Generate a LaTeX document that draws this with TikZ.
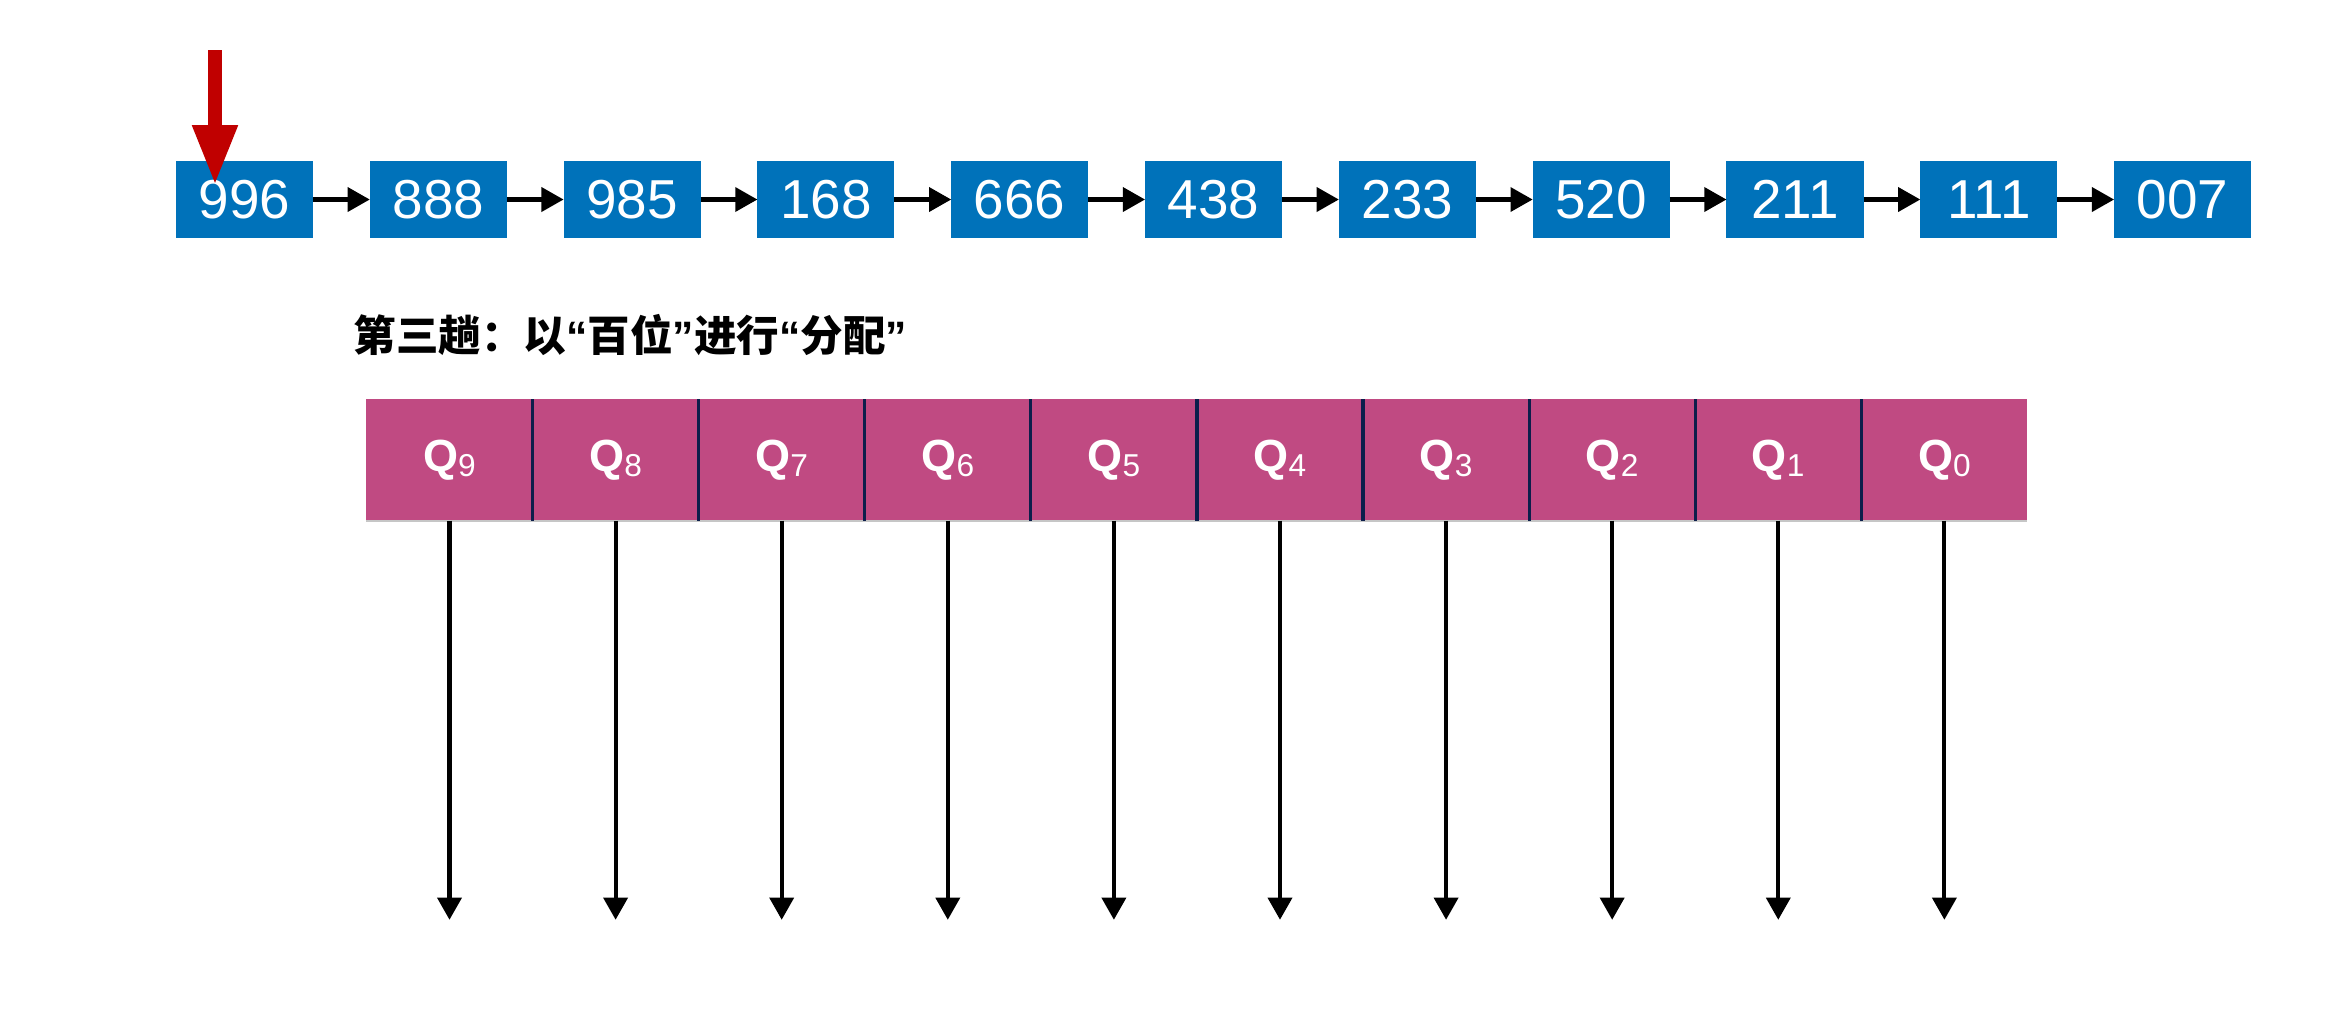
\documentclass[tikz,border=0pt]{standalone}
\usepackage{fontspec}
\setmainfont{Liberation Sans}
\newfontfamily\cjk{Noto Sans CJK SC}
\newfontfamily\latinq{Liberation Sans}
\usetikzlibrary{positioning,arrows.meta}
\definecolor{boxblue}{RGB}{0,114,186}
\definecolor{qpink}{RGB}{192,74,130}
\definecolor{qnavy}{RGB}{12,30,75}
\definecolor{ptrred}{RGB}{192,0,0}
\newcommand{\qsub}[1]{\raisebox{-1.5pt}{\mdseries\fontsize{9}{10}\selectfont #1}}
\newcommand{\oq}{{\latinq “}}
\newcommand{\cq}{{\latinq ”}}

\begin{document}
\begin{tikzpicture}[x=0.01cm,y=-0.01cm,
  numbox/.style={fill=boxblue,text=white,minimum width=1.37cm,minimum height=0.77cm,inner sep=0pt,outer sep=0pt,font=\fontsize{15.6}{18}\selectfont},
  qcell/.style={fill=qpink,text=white,minimum width=1.66cm,minimum height=1.21cm,inner sep=0pt,outer sep=0pt,font=\bfseries\fontsize{12.8}{14}\selectfont},
  link/.style={line width=1.15pt,-{Triangle[length=6.3pt,width=6.8pt]}},
  ptrarrow/.style={draw=ptrred,line width=3.7pt,-{Triangle[length=17pt,width=12pt]}},
  sepline/.style={draw=qnavy,line width=0.9pt},
  node distance=0.567cm]
\fill[white] (0,0) rectangle (2336,1026);
\useasboundingbox (0,0) rectangle (2336,1026);
% --- linked list ---
\node[numbox] (n1) at (244.5,199.5) {996};
\node[numbox,right=of n1] (n2) {888};
\node[numbox,right=of n2] (n3) {985};
\node[numbox,right=of n3] (n4) {168};
\node[numbox,right=of n4] (n5) {666};
\node[numbox,right=of n5] (n6) {438};
\node[numbox,right=of n6] (n7) {233};
\node[numbox,right=of n7] (n8) {520};
\node[numbox,right=of n8] (n9) {211};
\node[numbox,right=of n9] (n10) {111};
\node[numbox,right=of n10] (n11) {007};
\draw[link] (n1) -- (n2);
\draw[link] (n2) -- (n3);
\draw[link] (n3) -- (n4);
\draw[link] (n4) -- (n5);
\draw[link] (n5) -- (n6);
\draw[link] (n6) -- (n7);
\draw[link] (n7) -- (n8);
\draw[link] (n8) -- (n9);
\draw[link] (n9) -- (n10);
\draw[link] (n10) -- (n11);
% pointer on the first record
\coordinate (ptrtail) at (215,50);
\coordinate (ptrtip) at (215,185);
\draw[ptrarrow] (ptrtail) -- (ptrtip);
% --- caption ---
\node[anchor=west,inner sep=0pt,font=\cjk\bfseries\fontsize{12.1}{14}\selectfont] (title) at (353,335) {第三趟：以\oq 百位\cq 进行\oq 分配\cq};
% --- queues ---
\node[qcell] (q9) at (449.5,460) {Q\qsub{9}};
\node[qcell,right=0pt of q9] (q8) {Q\qsub{8}};
\node[qcell,right=0pt of q8] (q7) {Q\qsub{7}};
\node[qcell,right=0pt of q7] (q6) {Q\qsub{6}};
\node[qcell,right=0pt of q6] (q5) {Q\qsub{5}};
\node[qcell,right=0pt of q5] (q4) {Q\qsub{4}};
\node[qcell,right=0pt of q4] (q3) {Q\qsub{3}};
\node[qcell,right=0pt of q3] (q2) {Q\qsub{2}};
\node[qcell,right=0pt of q2] (q1) {Q\qsub{1}};
\node[qcell,right=0pt of q1] (q0) {Q\qsub{0}};
\draw[gray!45,line width=0.6pt] (q9.south west) -- (q0.south east);
\draw[sepline] (q9.north east) -- (q9.south east);
\draw[sepline] (q8.north east) -- (q8.south east);
\draw[sepline] (q7.north east) -- (q7.south east);
\draw[sepline] (q6.north east) -- (q6.south east);
\draw[sepline] (q5.north east) -- (q5.south east);
\draw[sepline] (q4.north east) -- (q4.south east);
\draw[sepline] (q3.north east) -- (q3.south east);
\draw[sepline] (q2.north east) -- (q2.south east);
\draw[sepline] (q1.north east) -- (q1.south east);
% queue outputs
\coordinate (d9) at ([yshift=-3.99cm]q9.south);
\coordinate (d8) at ([yshift=-3.99cm]q8.south);
\coordinate (d7) at ([yshift=-3.99cm]q7.south);
\coordinate (d6) at ([yshift=-3.99cm]q6.south);
\coordinate (d5) at ([yshift=-3.99cm]q5.south);
\coordinate (d4) at ([yshift=-3.99cm]q4.south);
\coordinate (d3) at ([yshift=-3.99cm]q3.south);
\coordinate (d2) at ([yshift=-3.99cm]q2.south);
\coordinate (d1) at ([yshift=-3.99cm]q1.south);
\coordinate (d0) at ([yshift=-3.99cm]q0.south);
\draw[link] (q9.south) -- (d9);
\draw[link] (q8.south) -- (d8);
\draw[link] (q7.south) -- (d7);
\draw[link] (q6.south) -- (d6);
\draw[link] (q5.south) -- (d5);
\draw[link] (q4.south) -- (d4);
\draw[link] (q3.south) -- (d3);
\draw[link] (q2.south) -- (d2);
\draw[link] (q1.south) -- (d1);
\draw[link] (q0.south) -- (d0);
\end{tikzpicture}
\end{document}
